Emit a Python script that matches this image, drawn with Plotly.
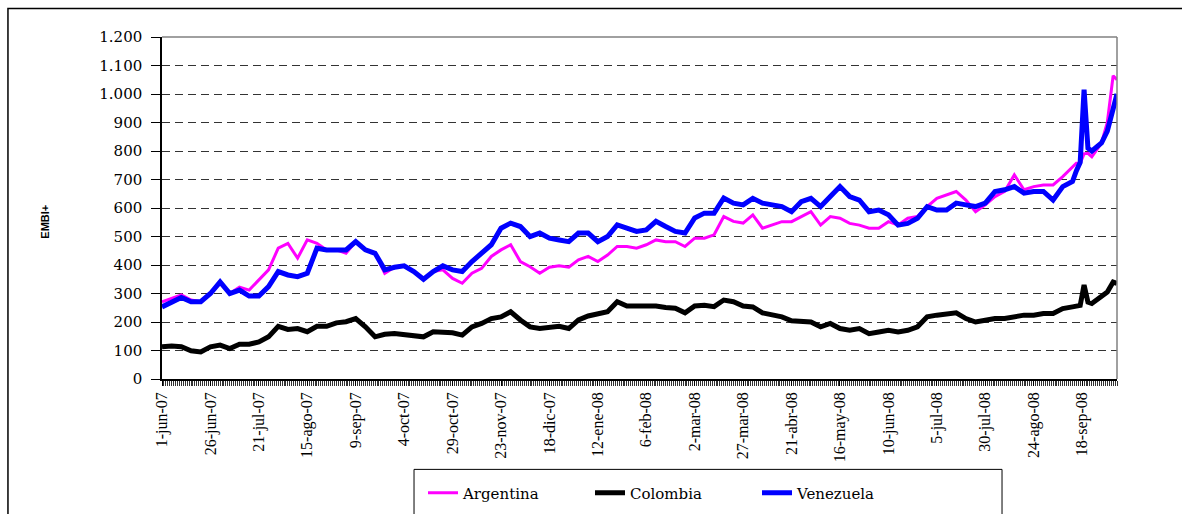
import pandas as pd
import plotly.graph_objects as go

# días desde el 1-jun-07 en los que se leyó cada valor
days = [0, 5, 10, 15, 20, 25, 30, 35, 40, 45,
        50, 55, 60, 65, 70, 75, 80, 85, 90, 95,
        100, 105, 110, 115, 120, 125, 130, 135, 140, 145,
        150, 155, 160, 165, 170, 175, 180, 185, 190, 195,
        200, 205, 210, 215, 220, 225, 230, 235, 240, 245,
        250, 255, 260, 265, 270, 275, 280, 285, 290, 295,
        300, 305, 310, 315, 320, 325, 330, 335, 340, 345,
        350, 355, 360, 365, 370, 375, 380, 385, 390, 395,
        400, 405, 410, 415, 420, 425, 430, 435, 440, 445,
        450, 455, 460, 465, 470, 472, 474, 476, 478, 480,
        485, 488, 491, 493]

argentina = [271, 283, 295, 277, 271, 300, 335, 300, 322, 312,
             347, 383, 459, 476, 424, 488, 476, 453, 453, 441,
             482, 453, 441, 371, 392, 397, 377, 350, 377, 383,
             353, 336, 371, 388, 430, 453, 471, 412, 394, 371,
             392, 397, 392, 418, 430, 412, 435, 465, 465, 459,
             471, 488, 482, 482, 465, 494, 494, 506, 570, 553,
             547, 576, 529, 540, 552, 552, 570, 587, 540, 570,
             564, 546, 540, 529, 529, 552, 540, 564, 570, 605,
             634, 646, 658, 628, 587, 611, 640, 658, 716, 664,
             675, 681, 681, 710, 746, 757, 757, 790, 792, 780,
             828, 900, 1064, 1050]

colombia = [113, 116, 113, 99, 95, 113, 119, 107, 122, 122,
            130, 148, 185, 174, 177, 166, 185, 185, 197, 201,
            212, 183, 148, 157, 160, 157, 154, 148, 166, 166,
            162, 154, 183, 195, 212, 218, 236, 207, 183, 177,
            183, 185, 177, 207, 221, 230, 236, 271, 256, 256,
            256, 256, 251, 248, 232, 256, 259, 254, 277, 271,
            256, 253, 232, 224, 218, 204, 204, 200, 183, 195,
            177, 171, 177, 159, 165, 171, 165, 171, 183, 218,
            224, 230, 232, 212, 200, 206, 212, 212, 218, 224,
            224, 230, 230, 247, 253, 255, 258, 330, 270, 265,
            288, 305, 340, 335]

venezuela = [253, 271, 286, 271, 271, 300, 341, 300, 312, 291,
             291, 324, 377, 365, 359, 371, 459, 453, 453, 453,
             482, 453, 441, 383, 392, 397, 377, 350, 377, 397,
             383, 377, 412, 441, 471, 529, 547, 535, 500, 512,
             494, 488, 482, 512, 512, 482, 500, 541, 529, 518,
             523, 553, 535, 518, 512, 565, 582, 582, 635, 617,
             611, 634, 617, 611, 605, 587, 622, 634, 605, 640,
             675, 640, 628, 587, 593, 576, 540, 546, 564, 605,
             593, 593, 617, 611, 605, 617, 658, 664, 675, 652,
             658, 658, 628, 675, 693, 730, 760, 1015, 810, 800,
             828, 870, 946, 1000]

tick_dates = ["2007-06-01", "2007-06-26", "2007-07-21", "2007-08-15",
              "2007-09-09", "2007-10-04", "2007-10-29", "2007-11-23",
              "2007-12-18", "2008-01-12", "2008-02-06", "2008-03-02",
              "2008-03-27", "2008-04-21", "2008-05-16", "2008-06-10",
              "2008-07-05", "2008-07-30", "2008-08-24", "2008-09-18"]
tick_labels = ["1-jun-07", "26-jun-07", "21-jul-07", "15-ago-07",
               "9-sep-07", "4-oct-07", "29-oct-07", "23-nov-07",
               "18-dic-07", "12-ene-08", "6-feb-08", "2-mar-08",
               "27-mar-08", "21-abr-08", "16-may-08", "10-jun-08",
               "5-jul-08", "30-jul-08", "24-ago-08", "18-sep-08"]

assert len(days) == len(argentina) == len(colombia) == len(venezuela)

dates = pd.Timestamp("2007-06-01") + pd.to_timedelta(days, unit="D")
serif = "Liberation Serif"
wide_serif = "DejaVu Serif"

fig = go.Figure()
fig.add_trace(go.Scatter(x=dates, y=argentina, name="Argentina", mode="lines",
                         line=dict(color="#FF00FF", width=3)))
fig.add_trace(go.Scatter(x=dates, y=colombia, name="Colombia", mode="lines",
                         line=dict(color="#000000", width=5)))
fig.add_trace(go.Scatter(x=dates, y=venezuela, name="Venezuela", mode="lines",
                         line=dict(color="#0000FF", width=5)))

fig.update_xaxes(
    type="date", range=["2007-06-01", "2008-10-06"],
    tickvals=tick_dates, ticktext=tick_labels, tickangle=-90,
    ticks="outside", ticklen=5, tickcolor="black",
    showline=True, linecolor="black", linewidth=1.5, showgrid=False,
    tickfont=dict(family=serif, size=16, color="black"),
    minor=dict(dtick=86400000, tick0="2007-06-01", ticks="outside",
               ticklen=5, tickcolor="#333333", tickwidth=1, showgrid=False))
fig.update_yaxes(
    range=[0, 1200], dtick=100, tickformat=",.0f",
    ticks="outside", ticklen=9, tickcolor="black", ticklabelstandoff=6,
    showline=True, linecolor="black", linewidth=1.5,
    showgrid=True, gridcolor="#333333", gridwidth=1, griddash="8px,5px",
    zeroline=False, tickfont=dict(family=wide_serif, size=15, color="black"))

# borde gris del área de trazado (arriba y derecha), marco exterior y caja de leyenda
fig.add_shape(type="line", xref="paper", yref="paper", x0=0, x1=1, y0=1, y1=1,
              line=dict(color="#808080", width=1.5))
fig.add_shape(type="line", xref="paper", yref="paper", x0=1, x1=1, y0=0, y1=1,
              line=dict(color="#808080", width=1.5))
fig.add_shape(type="rect", xref="paper", yref="paper", layer="below",
              x0=-0.1613, x1=1.2, y0=-1, y1=1.0834,
              line=dict(color="black", width=1.5))
fig.add_shape(type="rect", xref="paper", yref="paper", layer="below",
              x0=0.2639, x1=0.8796, y0=-1, y1=-0.2643,
              line=dict(color="black", width=1), fillcolor="white")

fig.add_annotation(text="<b>EMBI+</b>", xref="paper", yref="paper",
                   x=-0.1225, y=0.46, xanchor="center", yanchor="middle",
                   textangle=-90, showarrow=False,
                   font=dict(family="Liberation Sans", size=11, color="black"))

fig.update_layout(
    width=1182, height=514, separators=",.",
    margin=dict(l=162, r=65, t=37, b=135, autoexpand=False),
    paper_bgcolor="white", plot_bgcolor="white",
    showlegend=True,
    legend=dict(orientation="h", x=0.2733, y=-0.2848, xanchor="left",
                yanchor="top", borderwidth=0, bgcolor="rgba(0,0,0,0)",
                entrywidth=122,
                font=dict(family=wide_serif, size=15, color="black")),
)

fig.write_html("out.html", config={"displayModeBar": False},
               post_script="document.body.style.margin='0';")
